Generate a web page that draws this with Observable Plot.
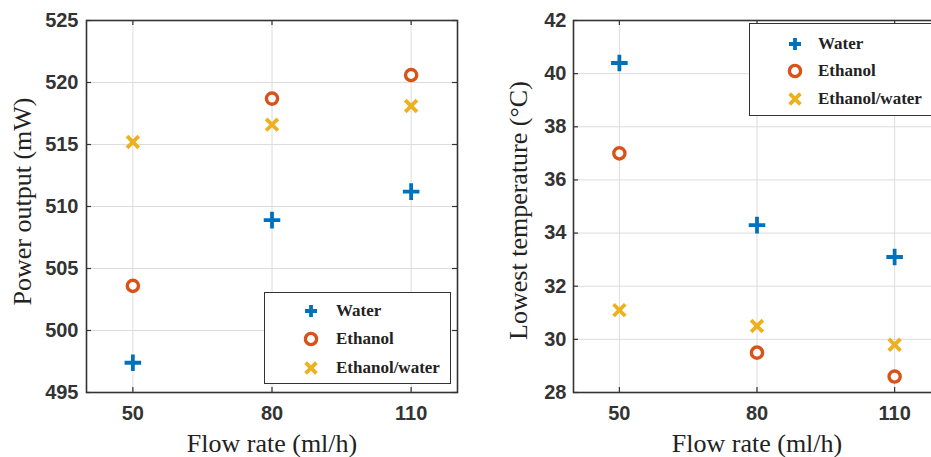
<!DOCTYPE html>
<html>
<head>
<meta charset="utf-8">
<script src="https://cdn.jsdelivr.net/npm/d3@7"></script>
<script src="https://cdn.jsdelivr.net/npm/@observablehq/plot@0.6"></script>
<style>
  html, body { margin: 0; padding: 0; background: #fff; overflow: hidden; }
  #wrap { position: relative; width: 931px; height: 457px; overflow: hidden; }
  .panel { position: absolute; top: 0; width: 470px; height: 457px; }
  .panel svg { max-width: none !important; }
  .legend { position: absolute; background: #fff; border: 1.5px solid #333; box-sizing: border-box;
            font-family: "Liberation Serif", "Times New Roman", serif; font-weight: bold; font-size: 17px; color: #222; }
  .legend svg { overflow: visible; }
</style>
</head>
<body>
<div id="wrap"></div>
<script>
// ---- data ----
const flowRates = [50, 80, 110];
const seriesNames = ["Water", "Ethanol", "Ethanol/water"];
const powerWater = [497.4, 508.9, 511.2];
const powerEthanol = [503.6, 518.7, 520.6];
const powerMix = [515.2, 516.6, 518.1];
const tempWater = [40.4, 34.3, 33.1];
const tempEthanol = [37.0, 29.5, 28.6];
const tempMix = [31.1, 30.5, 29.8];
const xTicks = [50, 80, 110];
const powerTicks = [495, 500, 505, 510, 515, 520, 525];
const tempTicks = [28, 30, 32, 34, 36, 38, 40, 42];

const colors = {"Water": "#0072BD", "Ethanol": "#D95319", "Ethanol/water": "#EDB120"};
const symbols = {"Water": "plus", "Ethanol": "circle", "Ethanol/water": "times"};

function rows(a, b, c) {
  const out = [];
  [a, b, c].forEach((arr, i) => arr.forEach((v, j) => out.push({series: seriesNames[i], x: flowRates[j], y: v})));
  return out;
}

function makePanel({data, yDomain, yTicks, yLabel, width, marginLeft, marginRight, tickPad, yLabelDx, yLabelDy}) {
  const height = 457, marginTop = 20, marginBottom = 65;
  const ph = height - marginTop - marginBottom;
  const pw = width - marginLeft - marginRight;
  const dotStyle = (s) => ({
    x: "x", y: "y",
    symbol: () => symbols[s],
    r: s === "Ethanol" ? 5.6 : 5.4,
    stroke: colors[s],
    strokeWidth: s === "Ethanol" ? 3.4 : 3.8,
    fill: s === "Ethanol" ? "#fff" : "none"
  });
  const serif = "Liberation Serif, Times New Roman, serif";
  return Plot.plot({
    width, height, marginTop, marginBottom, marginLeft, marginRight,
    x: {domain: [40, 120]},
    y: {domain: yDomain},
    style: {background: "#fff"},
    marks: [
      Plot.gridX(xTicks, {stroke: "#dcdcdc", strokeOpacity: 1, strokeWidth: 1}),
      Plot.gridY(yTicks, {stroke: "#dcdcdc", strokeOpacity: 1, strokeWidth: 1}),
      Plot.tickX(xTicks, {x: d => d, stroke: "#333", strokeWidth: 1.2, insetTop: ph - 5}),
      Plot.tickX(xTicks, {x: d => d, stroke: "#333", strokeWidth: 1.2, insetBottom: ph - 5}),
      Plot.tickY(yTicks, {y: d => d, stroke: "#333", strokeWidth: 1.2, insetLeft: pw - 5}),
      Plot.tickY(yTicks, {y: d => d, stroke: "#333", strokeWidth: 1.2, insetRight: pw - 5}),
      Plot.axisX(xTicks, {tickSize: 0, tickPadding: 13, label: null, fontSize: 20, fontWeight: "bold",
        fontFamily: "Liberation Sans, Arial, sans-serif", fill: "#333"}),
      Plot.axisY(yTicks, {tickSize: 0, tickPadding: tickPad, label: null, fontSize: 20, fontWeight: "bold",
        fontFamily: "Liberation Sans, Arial, sans-serif", fill: "#333"}),
      Plot.frame({stroke: "#333", strokeWidth: 1.6}),
      ...seriesNames.map(s => Plot.dot(data.filter(d => d.series === s), dotStyle(s))),
      Plot.text(["Flow rate (ml/h)"], {frameAnchor: "bottom", lineAnchor: "middle", dy: 51, fontSize: 26,
        fontFamily: serif, fill: "#222"}),
      Plot.text([yLabel], {frameAnchor: "left", textAnchor: "middle", lineAnchor: "middle", rotate: -90,
        dx: yLabelDx, dy: yLabelDy, fontSize: 26, fontFamily: serif, fill: "#222"})
    ]
  });
}

const wrap = document.getElementById("wrap");

const left = makePanel({
  data: rows(powerWater, powerEthanol, powerMix),
  yDomain: [495, 525], yTicks: powerTicks, yLabel: "Power output (mW)",
  width: 470, marginLeft: 86, marginRight: 13, tickPad: 8, yLabelDx: -64, yLabelDy: -5
});
const leftDiv = document.createElement("div");
leftDiv.className = "panel"; leftDiv.style.left = "0px";
leftDiv.appendChild(left); wrap.appendChild(leftDiv);

const right = makePanel({
  data: rows(tempWater, tempEthanol, tempMix),
  yDomain: [28, 42], yTicks: tempTicks, yLabel: "Lowest temperature (°C)",
  width: 470, marginLeft: 103, marginRight: 0, tickPad: 7, yLabelDx: -55, yLabelDy: 4
});
const rightDiv = document.createElement("div");
rightDiv.className = "panel"; rightDiv.style.left = "470px";
rightDiv.appendChild(right); wrap.appendChild(rightDiv);

// ---- legends ----
function symbolSvg(s) {
  const c = colors[s];
  let inner = "";
  if (s === "Water") inner = `<path d="M-6,0H6M0,-6V6" stroke="${c}" stroke-width="3.8"/>`;
  else if (s === "Ethanol") inner = `<circle r="5.6" fill="#fff" stroke="${c}" stroke-width="3.4"/>`;
  else inner = `<path d="M-5.4,-5.4L5.4,5.4M-5.4,5.4L5.4,-5.4" stroke="${c}" stroke-width="3.8"/>`;
  return `<svg width="1" height="1" style="position:absolute;left:0;top:0"><g>${inner}</g></svg>`;
}
function makeLegend({left, top, width, height, symX, textX, rowYs}) {
  const box = document.createElement("div");
  box.className = "legend";
  Object.assign(box.style, {left: left + "px", top: top + "px", width: width + "px", height: height + "px"});
  seriesNames.forEach((s, i) => {
    const sym = document.createElement("div");
    sym.style.position = "absolute";
    sym.style.left = (symX - left) + "px";
    sym.style.top = (rowYs[i] - top) + "px";
    sym.innerHTML = symbolSvg(s);
    box.appendChild(sym);
    const t = document.createElement("div");
    t.textContent = s;
    Object.assign(t.style, {position: "absolute", left: (textX - left) + "px", top: (rowYs[i] - top - 11) + "px",
      lineHeight: "22px", whiteSpace: "nowrap"});
    box.appendChild(t);
  });
  wrap.appendChild(box);
}
makeLegend({left: 264, top: 292, width: 187, height: 92, symX: 310, textX: 335, rowYs: [310, 338, 367]});
makeLegend({left: 749, top: 23, width: 195, height: 93, symX: 794, textX: 817, rowYs: [43, 70, 98]});
</script>
</body>
</html>
